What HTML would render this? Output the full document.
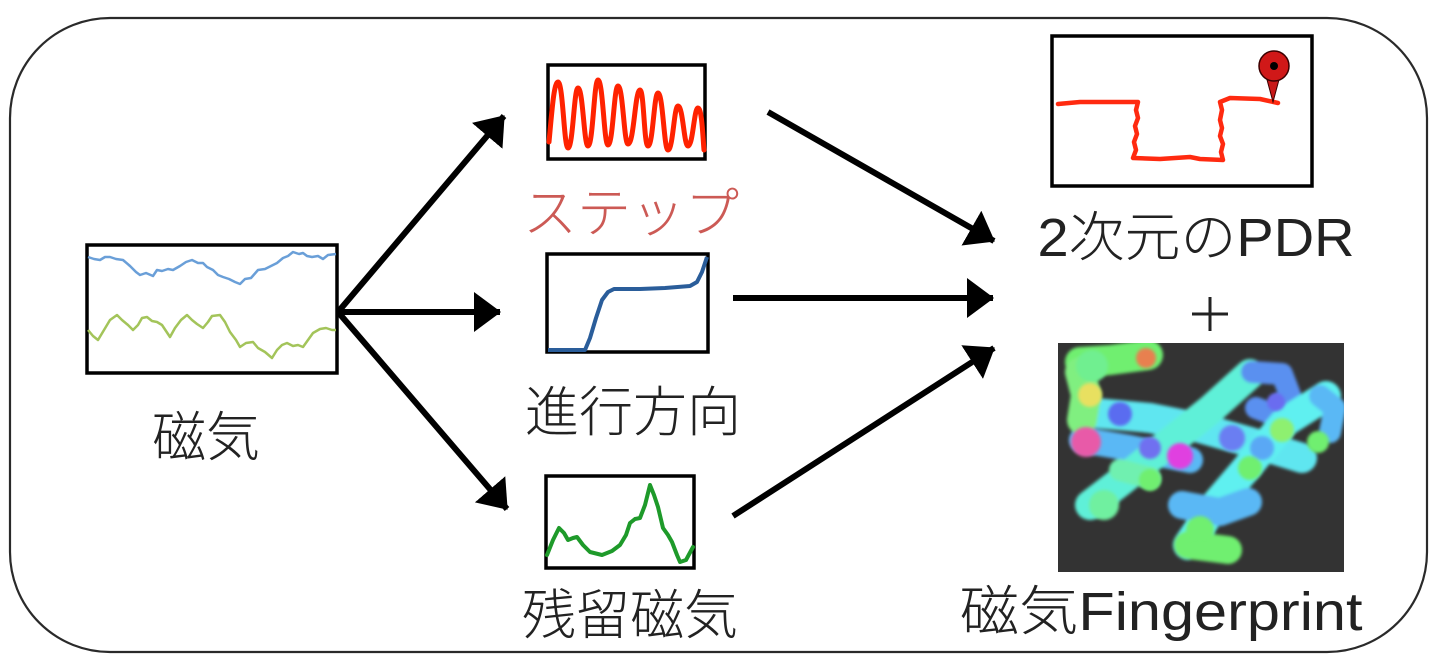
<!DOCTYPE html>
<html><head><meta charset="utf-8"><style>
html,body{margin:0;padding:0;background:#fff;}
svg{display:block;}
text{font-family:"Liberation Sans","Noto Sans CJK JP",sans-serif;font-weight:300;}
</style></head><body>
<svg width="1437" height="661" viewBox="0 0 1437 661" xmlns="http://www.w3.org/2000/svg">
<defs>
<marker id="ah" markerUnits="userSpaceOnUse" markerWidth="27" markerHeight="40" viewBox="0 0 27 40" refX="26" refY="20" orient="auto">
<path d="M0,0 L27,20 L0,40 z" fill="#000"/>
</marker>
<clipPath id="fpc"><rect x="1058" y="343" width="286" height="229"/></clipPath>
<filter id="bl"><feGaussianBlur stdDeviation="1.5"/></filter>
</defs>

<!-- outer frame -->
<rect x="10" y="18" width="1417" height="634" rx="100" ry="100" fill="none" stroke="#2a2a2a" stroke-width="2.2"/>

<!-- input box -->
<rect x="87" y="245" width="250" height="128" fill="#fff" stroke="#000" stroke-width="3.5"/>
<polyline fill="none" stroke="#6a9fd8" stroke-width="2.5" stroke-linejoin="round" points="88,257 94,259 100,260 105,257 110,257 116,259 123,260 130,266 136,272 140,275 146,273 153,276 157,270 162,271 168,269 173,270 180,266 186,262 192,260 198,263 203,263 207,267 213,270 218,275 223,277 229,279 235,282 240,284 245,279 251,278 258,270 265,269 271,266 277,263 283,258 288,256 293,252 299,254 303,253 307,256 312,257 318,256 323,259 328,255 336,254"/>
<polyline fill="none" stroke="#a3c45a" stroke-width="2.5" stroke-linejoin="round" points="88,330 93,336 98,340 104,330 110,320 117,315 122,320 128,325 133,330 138,325 142,318 147,317 152,321 157,322 162,325 166,331 170,337 175,328 181,320 187,315 192,320 197,324 203,328 208,322 212,316 220,315 225,322 230,332 236,340 240,347 246,343 253,342 258,348 265,352 272,358 277,350 282,345 287,343 293,346 298,345 303,347 308,340 313,333 320,329 326,328 332,330 336,330"/>
<text x="206" y="456" font-size="54" text-anchor="middle" fill="#222">磁気</text>

<!-- arrows from input -->
<line x1="338" y1="312" x2="504" y2="116" stroke="#000" stroke-width="6" marker-end="url(#ah)"/>
<line x1="338" y1="312" x2="500" y2="312" stroke="#000" stroke-width="6" marker-end="url(#ah)"/>
<line x1="338" y1="312" x2="507" y2="509" stroke="#000" stroke-width="6" marker-end="url(#ah)"/>

<!-- step box -->
<rect x="548" y="65" width="157" height="94" fill="#fff" stroke="#000" stroke-width="3.5"/>
<path fill="none" stroke="#ff2200" stroke-width="5" stroke-linecap="round"
d="M549,142 C552,110 554,82 558,82 C563,82 564,148 568,148 C573,148 574,88 578,88 C583,88 584,146 588,146 C593,146 594,80 598,80 C603,80 604,145 608,145 C613,145 614,86 618,86 C623,86 624,144 628,144 C634,144 635,90 640,90 C644,90 644,146 648,146 C653,146 654,93 658,93 C663,93 664,150 668,150 C673,150 674,106 678,106 C683,106 684,146 688,146 C693,146 694,108 698,108 C702,108 703,140 704,150"/>
<text x="631" y="232" font-size="54" text-anchor="middle" fill="#cc5a55">ステップ</text>

<!-- direction box -->
<rect x="547" y="254" width="161" height="98" fill="#fff" stroke="#000" stroke-width="3.5"/>
<polyline fill="none" stroke="#2a5d9a" stroke-width="4" stroke-linejoin="round" points="548,350 585,350 590,338 596,318 602,300 608,292 614,289 640,289 665,288 690,286 697,282 702,272 707,257"/>
<text x="633" y="431" font-size="54" text-anchor="middle" fill="#222">進行方向</text>

<!-- residual box -->
<rect x="546" y="476" width="148" height="92" fill="#fff" stroke="#000" stroke-width="3.5"/>
<polyline fill="none" stroke="#1e9a2a" stroke-width="4" stroke-linejoin="round" stroke-linecap="round" points="547,555 553,540 559,528 564,533 568,540 573,538 577,537 583,545 590,552 602,555 612,551 620,545 626,535 630,523 635,519 640,518 645,505 650,485 654,495 658,507 663,528 668,535 672,542 677,555 680,562 686,560 693,547"/>
<text x="630" y="634" font-size="54" text-anchor="middle" fill="#222">残留磁気</text>

<!-- arrows to right -->
<line x1="768" y1="112" x2="994" y2="241" stroke="#000" stroke-width="6" marker-end="url(#ah)"/>
<line x1="733" y1="298" x2="993" y2="298" stroke="#000" stroke-width="6" marker-end="url(#ah)"/>
<line x1="733" y1="516" x2="994" y2="348" stroke="#000" stroke-width="6" marker-end="url(#ah)"/>

<!-- PDR box -->
<rect x="1052" y="36" width="260" height="150" fill="#fff" stroke="#000" stroke-width="3.5"/>
<polyline fill="none" stroke="#ff2a10" stroke-width="4.5" stroke-linejoin="round" stroke-linecap="round" points="1058,104 1080,102 1110,102 1138,102 1136,110 1138,118 1135,126 1137,134 1134,142 1136,150 1133,158 1160,159 1190,157 1200,159 1223,160 1221,152 1223,144 1220,136 1222,128 1220,120 1222,110 1220,102 1230,98 1260,99 1278,103"/>
<path d="M1266,76 L1273,102 L1280,76 z" fill="#c81818" stroke="#3a0000" stroke-width="1"/>
<circle cx="1274" cy="66" r="15" fill="#d01818" stroke="#3a0000" stroke-width="1.5"/>
<circle cx="1274" cy="66" r="4" fill="#000"/>
<text x="1196" y="256" font-size="54" text-anchor="middle" fill="#222" textLength="317" lengthAdjust="spacingAndGlyphs">2次元のPDR</text>

<!-- plus -->
<line x1="1192" y1="314" x2="1228" y2="314" stroke="#222" stroke-width="3"/>
<line x1="1210" y1="297" x2="1210" y2="331" stroke="#222" stroke-width="3"/>

<!-- fingerprint image -->
<rect x="1058" y="343" width="286" height="229" fill="#333"/>
<g clip-path="url(#fpc)" filter="url(#bl)" fill="none" stroke-linecap="round" stroke-linejoin="round">
<polyline stroke="#5fe6f0" stroke-width="30" points="1084,412 1150,418 1200,428 1250,442 1302,458"/>
<polyline stroke="#5ab8f5" stroke-width="26" points="1082,440 1130,448 1190,460"/>
<polyline stroke="#6fef70" stroke-width="30" points="1080,362 1110,360 1148,355"/>
<polyline stroke="#80ef80" stroke-width="30" points="1080,372 1086,395 1082,420"/>
<polyline stroke="#5ef0d8" stroke-width="30" points="1090,505 1120,482 1170,442 1210,410 1250,374"/>
<polyline stroke="#5a90f0" stroke-width="22" points="1252,372 1282,374 1290,395 1272,414 1256,408"/>
<polyline stroke="#5ef0f0" stroke-width="30" points="1188,545 1215,505 1245,470 1285,422 1326,396"/>
<polyline stroke="#5ab8f5" stroke-width="28" points="1182,505 1220,512 1248,502"/>
<polyline stroke="#6fef70" stroke-width="28" points="1188,545 1228,550"/>
<polyline stroke="#5ab8f5" stroke-width="22" points="1320,396 1335,408 1330,432"/>
<polyline stroke="#6ff0b0" stroke-width="22" points="1120,470 1150,478"/>
</g>
<g clip-path="url(#fpc)" filter="url(#bl)">
<circle cx="1120" cy="414" r="12" fill="#5a6cf0"/>
<circle cx="1232" cy="438" r="13" fill="#6a7ef2"/>
<circle cx="1262" cy="448" r="12" fill="#5aa8f5"/>
<circle cx="1086" cy="442" r="15" fill="#e85aa8"/>
<circle cx="1180" cy="456" r="13" fill="#e040e0"/>
<circle cx="1150" cy="448" r="11" fill="#7070f0"/>
<circle cx="1146" cy="358" r="10" fill="#e88050"/>
<circle cx="1090" cy="395" r="12" fill="#e8e060"/>
<circle cx="1092" cy="366" r="16" fill="#70ef90"/>
<circle cx="1104" cy="505" r="15" fill="#6ff0a0"/>
<circle cx="1150" cy="480" r="11" fill="#70ef70"/>
<circle cx="1200" cy="530" r="14" fill="#6fef70"/>
<circle cx="1282" cy="430" r="12" fill="#8ef070"/>
<circle cx="1250" cy="468" r="12" fill="#6fef70"/>
<circle cx="1318" cy="442" r="11" fill="#6fef70"/>
<circle cx="1276" cy="402" r="9" fill="#6a6cf0"/>
</g>
<text x="1161" y="630" font-size="54" text-anchor="middle" fill="#222" textLength="403" lengthAdjust="spacingAndGlyphs">磁気Fingerprint</text>
</svg>
</body></html>
